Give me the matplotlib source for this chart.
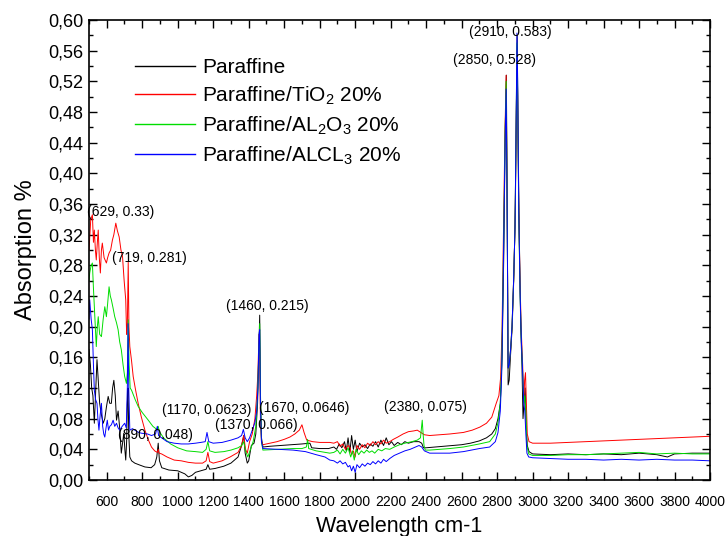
import matplotlib
matplotlib.use('Agg')
import matplotlib.pyplot as plt
from matplotlib.ticker import MultipleLocator, FuncFormatter

plt.rcParams['font.family'] = ['Liberation Sans', 'DejaVu Sans']
plt.rcParams['mathtext.fontset'] = 'custom'
plt.rcParams['mathtext.rm'] = 'Liberation Sans'
plt.rcParams['mathtext.it'] = 'Liberation Sans:italic'

labels = ['Paraffine', 'Paraffine/TiO$_2$ 20%', 'Paraffine/AL$_2$O$_3$ 20%', 'Paraffine/ALCL$_3$ 20%']
colors = ['#000000', '#ff0000', '#00dd00', '#0000ff']

# Paraffine
wn_par = [500, 508, 515, 522, 530, 538, 545, 552, 560, 570, 580, 589, 598, 608, 617, 626, 633, 640, 648, 655,
          664, 672, 682, 690, 696, 702, 707, 712, 716, 720, 724, 730, 740, 758, 780, 815, 850, 870, 882, 890,
          897, 910, 950, 1000, 1040, 1060, 1080, 1100, 1130, 1160, 1170, 1180, 1210, 1260, 1300, 1340, 1360, 1372, 1380, 1392,
          1400, 1415, 1430, 1440, 1450, 1456, 1462, 1467, 1472, 1480, 1520, 1580, 1640, 1700, 1745, 1755, 1800, 1850,
          1880, 1895, 1910, 1925, 1940, 1950, 1960, 1970, 1980, 1990, 2000, 2010, 2025, 2040, 2055, 2070, 2085, 2100,
          2115, 2130, 2145, 2160, 2175, 2190, 2205, 2220, 2240, 2260, 2280, 2300, 2330, 2360, 2375, 2385, 2400, 2450,
          2500, 2550, 2600, 2650, 2700, 2740, 2770, 2790, 2805, 2818, 2828, 2838, 2846, 2852, 2857, 2862, 2868, 2875,
          2885, 2895, 2903, 2909, 2913, 2918, 2925, 2933, 2940, 2946, 2952, 2958, 2964, 2970, 2980, 3000, 3100, 3200,
          3300, 3400, 3500, 3600, 3700, 3760, 3800, 3900, 4000]
ab_par = [0.17, 0.15, 0.12, 0.11, 0.074, 0.12, 0.157, 0.13, 0.10, 0.085, 0.074, 0.08, 0.095, 0.109, 0.10, 0.1, 0.12, 0.13, 0.11, 0.078,
          0.09, 0.07, 0.035, 0.05, 0.061, 0.04, 0.026, 0.05, 0.1, 0.12, 0.06, 0.03, 0.025, 0.022, 0.02, 0.017, 0.016, 0.02, 0.03, 0.048,
          0.025, 0.016, 0.013, 0.012, 0.008, 0.004, 0.006, 0.01, 0.012, 0.014, 0.02, 0.014, 0.015, 0.018, 0.022, 0.03, 0.045, 0.058, 0.035, 0.022,
          0.025, 0.045, 0.048, 0.06, 0.1, 0.16, 0.215, 0.1, 0.055, 0.043, 0.044, 0.045, 0.046, 0.047, 0.048, 0.042, 0.041, 0.041,
          0.043, 0.04, 0.047, 0.042, 0.05, 0.038, 0.055, 0.036, 0.058, 0.04, 0.052, 0.037, 0.048, 0.043, 0.046, 0.041, 0.047, 0.044,
          0.05, 0.043, 0.052, 0.045, 0.055, 0.046, 0.05, 0.045, 0.049, 0.046, 0.05, 0.048, 0.05, 0.05, 0.048, 0.042, 0.042, 0.043,
          0.044, 0.045, 0.046, 0.048, 0.051, 0.055, 0.06, 0.067, 0.08, 0.1, 0.16, 0.3, 0.46, 0.528, 0.36, 0.124, 0.13, 0.16,
          0.2, 0.27, 0.36, 0.5, 0.58, 0.45, 0.32, 0.2, 0.15, 0.08, 0.1, 0.12, 0.07, 0.045, 0.037, 0.034, 0.033, 0.034,
          0.033, 0.034, 0.033, 0.035, 0.033, 0.03, 0.034, 0.035, 0.035]

# Paraffine/TiO2
wn_tio = [500, 510, 519, 525, 530, 536, 541, 547, 552, 558, 564, 570, 575, 585, 598, 605, 613, 622, 632, 640,
          651, 660, 670, 680, 689, 698, 707, 712, 716, 721, 725, 730, 740, 749, 762, 777, 795, 815, 835, 852,
          870, 885, 890, 895, 909, 940, 980, 1020, 1060, 1100, 1140, 1160, 1170, 1180, 1200, 1250, 1295, 1340, 1360, 1372,
          1382, 1392, 1405, 1420, 1435, 1445, 1452, 1458, 1462, 1466, 1472, 1480, 1520, 1560, 1600, 1632, 1660, 1685, 1700, 1712,
          1727, 1760, 1800, 1857, 1880, 1900, 1915, 1930, 1945, 1960, 1970, 1980, 1990, 2000, 2010, 2025, 2040, 2055, 2070, 2085,
          2100, 2115, 2130, 2145, 2160, 2175, 2195, 2215, 2240, 2270, 2300, 2330, 2350, 2370, 2390, 2420, 2480, 2533, 2610, 2660,
          2703, 2740, 2770, 2795, 2810, 2820, 2828, 2836, 2844, 2851, 2856, 2862, 2868, 2876, 2884, 2893, 2901, 2907, 2912, 2916,
          2922, 2930, 2937, 2944, 2950, 2955, 2960, 2965, 2970, 2980, 3000, 3100, 3200, 3300, 3400, 3500, 3600, 3700, 3800, 3900,
          4000]
ab_tio = [0.3, 0.34, 0.346, 0.31, 0.326, 0.3, 0.287, 0.31, 0.326, 0.29, 0.27, 0.3, 0.309, 0.29, 0.283, 0.29, 0.296, 0.3, 0.313, 0.32,
          0.335, 0.325, 0.317, 0.3, 0.291, 0.26, 0.235, 0.19, 0.2, 0.284, 0.2, 0.174, 0.155, 0.135, 0.118, 0.10, 0.082, 0.065, 0.052, 0.043,
          0.038, 0.036, 0.04, 0.035, 0.034, 0.03, 0.026, 0.025, 0.023, 0.022, 0.022, 0.025, 0.036, 0.024, 0.022, 0.025, 0.03, 0.036, 0.045, 0.058,
          0.04, 0.035, 0.05, 0.06, 0.08, 0.11, 0.14, 0.19, 0.17, 0.08, 0.05, 0.046, 0.048, 0.05, 0.053, 0.056, 0.06, 0.065, 0.072, 0.062,
          0.052, 0.05, 0.049, 0.049, 0.048, 0.05, 0.044, 0.047, 0.04, 0.045, 0.043, 0.033, 0.038, 0.03, 0.045, 0.04, 0.046, 0.042, 0.048, 0.045,
          0.05, 0.046, 0.05, 0.047, 0.052, 0.048, 0.05, 0.053, 0.056, 0.06, 0.063, 0.064, 0.065, 0.062, 0.059, 0.058, 0.059, 0.06, 0.062, 0.065,
          0.069, 0.074, 0.082, 0.1, 0.11, 0.134, 0.2, 0.33, 0.45, 0.528, 0.38, 0.146, 0.15, 0.17, 0.2, 0.26, 0.33, 0.45, 0.56, 0.5,
          0.35, 0.25, 0.19, 0.15, 0.1, 0.13, 0.14, 0.1, 0.06, 0.05, 0.048, 0.048, 0.049, 0.05, 0.051, 0.052, 0.053, 0.054, 0.055, 0.056,
          0.057]

# Paraffine/Al2O3
wn_alo = [500, 504, 512, 519, 525, 530, 536, 541, 547, 552, 560, 570, 580, 589, 598, 605, 613, 620, 626, 635,
          645, 655, 664, 673, 682, 692, 701, 711, 716, 721, 726, 732, 740, 760, 777, 800, 834, 860, 882, 890,
          897, 920, 960, 1000, 1050, 1100, 1140, 1160, 1170, 1180, 1210, 1260, 1300, 1340, 1360, 1372, 1382, 1395, 1410, 1425,
          1440, 1450, 1457, 1462, 1467, 1472, 1480, 1560, 1650, 1700, 1725, 1732, 1738, 1780, 1830, 1857, 1880, 1900, 1915, 1930,
          1945, 1960, 1975, 1985, 1995, 2005, 2020, 2035, 2050, 2065, 2080, 2095, 2110, 2130, 2150, 2170, 2195, 2220, 2250, 2280,
          2320, 2350, 2368, 2378, 2383, 2388, 2395, 2420, 2480, 2533, 2610, 2700, 2758, 2790, 2805, 2818, 2826, 2836, 2845, 2851,
          2856, 2862, 2868, 2876, 2884, 2893, 2901, 2907, 2912, 2916, 2922, 2930, 2937, 2944, 2950, 2956, 2962, 2968, 2978, 3000,
          3100, 3200, 3300, 3400, 3500, 3600, 3700, 3800, 3900, 4000]
ab_alo = [0.26, 0.27, 0.28, 0.283, 0.25, 0.226, 0.2, 0.174, 0.2, 0.213, 0.19, 0.187, 0.21, 0.226, 0.213, 0.23, 0.252, 0.24, 0.235, 0.225,
          0.213, 0.205, 0.196, 0.18, 0.17, 0.15, 0.135, 0.126, 0.14, 0.209, 0.15, 0.12, 0.117, 0.105, 0.096, 0.088, 0.078, 0.07, 0.066, 0.07,
          0.063, 0.055, 0.047, 0.042, 0.038, 0.037, 0.036, 0.04, 0.05, 0.038, 0.036, 0.037, 0.039, 0.042, 0.045, 0.05, 0.038, 0.03, 0.04, 0.05,
          0.07, 0.11, 0.17, 0.204, 0.1, 0.05, 0.039, 0.04, 0.041, 0.041, 0.043, 0.053, 0.041, 0.038, 0.036, 0.035, 0.036, 0.039, 0.034, 0.04,
          0.035, 0.042, 0.03, 0.038, 0.026, 0.04, 0.033, 0.038, 0.035, 0.039, 0.036, 0.038, 0.035, 0.04, 0.038, 0.041, 0.04, 0.043, 0.046, 0.048,
          0.05, 0.052, 0.055, 0.078, 0.06, 0.045, 0.039, 0.039, 0.04, 0.041, 0.043, 0.047, 0.05, 0.06, 0.075, 0.1, 0.15, 0.3, 0.45, 0.52,
          0.38, 0.146, 0.15, 0.17, 0.2, 0.26, 0.33, 0.46, 0.57, 0.5, 0.34, 0.24, 0.18, 0.14, 0.1, 0.11, 0.09, 0.045, 0.034, 0.032,
          0.032, 0.033, 0.033, 0.034, 0.035, 0.036, 0.034, 0.035, 0.034, 0.034]

# Paraffine/AlCl3
wn_alc = [500, 504, 512, 519, 525, 530, 537, 545, 550, 556, 563, 570, 577, 583, 589, 596, 603, 610, 617, 626,
          636, 645, 655, 664, 673, 687, 701, 710, 716, 720, 724, 730, 745, 758, 780, 796, 830, 852, 875, 885,
          892, 909, 940, 980, 1020, 1060, 1100, 1130, 1155, 1165, 1175, 1200, 1250, 1300, 1340, 1360, 1370, 1380, 1392, 1405,
          1420, 1435, 1445, 1452, 1458, 1462, 1466, 1472, 1480, 1560, 1650, 1720, 1780, 1830, 1857, 1880, 1900, 1915, 1930, 1945,
          1960, 1970, 1980, 1990, 2000, 2010, 2025, 2040, 2055, 2070, 2085, 2100, 2115, 2130, 2145, 2160, 2175, 2195, 2220, 2250,
          2280, 2310, 2340, 2360, 2375, 2390, 2420, 2480, 2533, 2610, 2700, 2758, 2790, 2805, 2818, 2826, 2836, 2845, 2851, 2856,
          2862, 2868, 2876, 2884, 2893, 2901, 2907, 2912, 2916, 2922, 2930, 2937, 2944, 2950, 2956, 2962, 2968, 2978, 3000, 3100,
          3200, 3300, 3400, 3500, 3600, 3700, 3800, 3900, 4000]
ab_alc = [0.21, 0.235, 0.21, 0.196, 0.15, 0.117, 0.105, 0.1, 0.08, 0.065, 0.085, 0.1, 0.07, 0.06, 0.056, 0.068, 0.078, 0.065, 0.07, 0.072,
          0.078, 0.07, 0.074, 0.068, 0.065, 0.07, 0.074, 0.068, 0.12, 0.204, 0.12, 0.065, 0.067, 0.065, 0.062, 0.061, 0.06, 0.058, 0.06, 0.07,
          0.058, 0.055, 0.05, 0.048, 0.047, 0.047, 0.048, 0.049, 0.05, 0.062, 0.05, 0.048, 0.049, 0.052, 0.055, 0.058, 0.066, 0.055, 0.05, 0.055,
          0.065, 0.075, 0.09, 0.12, 0.19, 0.196, 0.1, 0.05, 0.041, 0.04, 0.039, 0.037, 0.033, 0.03, 0.026, 0.025, 0.022, 0.025, 0.021, 0.023,
          0.017, 0.019, 0.012, 0.018, 0.01, 0.02, 0.016, 0.021, 0.018, 0.022, 0.02, 0.024, 0.021, 0.025, 0.022, 0.027, 0.024, 0.028, 0.032, 0.035,
          0.038, 0.04, 0.043, 0.045, 0.043, 0.038, 0.035, 0.035, 0.035, 0.037, 0.041, 0.043, 0.05, 0.062, 0.09, 0.14, 0.29, 0.44, 0.51, 0.37,
          0.146, 0.15, 0.17, 0.2, 0.26, 0.33, 0.46, 0.583, 0.52, 0.35, 0.24, 0.18, 0.14, 0.1, 0.09, 0.06, 0.035, 0.03, 0.029, 0.028,
          0.027, 0.027, 0.026, 0.027, 0.026, 0.027, 0.026, 0.026, 0.025]

ann_text = ['(629, 0.33)', '(719, 0.281)', '(890, 0.048)', '(1170, 0.0623)', '(1370, 0.066)', '(1460, 0.215)',
            '(1670, 0.0646)', '(2380, 0.075)', '(2850, 0.528)', '(2910, 0.583)']
ann_x = [680, 843, 877, 1165, 1442, 1503, 1711, 2397, 2786, 2877]
ann_y = [0.35, 0.29, 0.059, 0.091, 0.072, 0.227, 0.094, 0.095, 0.548, 0.584]

fig = plt.figure(figsize=(7.26, 5.36), dpi=100)
ax = fig.add_axes([0.1226, 0.1045, 0.8554, 0.8582])

series = [(wn_par, ab_par), (wn_tio, ab_tio), (wn_alo, ab_alo), (wn_alc, ab_alc)]
for (x, y), c, lab in zip(series, colors, labels):
    ax.plot(x, y, color=c, lw=0.7, label=lab)

for t, x, y in zip(ann_text, ann_x, ann_y):
    ax.text(x, y, t, ha='center', va='center', fontsize=10)

ax.set_xlim(500, 4000)
ax.set_ylim(0, 0.6)
ax.xaxis.set_major_locator(MultipleLocator(200))
ax.xaxis.set_minor_locator(MultipleLocator(100))
ax.yaxis.set_major_locator(MultipleLocator(0.04))
ax.yaxis.set_minor_locator(MultipleLocator(0.02))
ax.yaxis.set_major_formatter(FuncFormatter(lambda v, p: f'{v:.2f}'.replace('.', ',')))
ax.xaxis.set_major_formatter(FuncFormatter(lambda v, p: '' if v < 600 else f'{v:.0f}'))
ax.tick_params(which='both', direction='in', top=True, right=True, width=1.0)
ax.tick_params(which='major', length=6)
ax.tick_params(which='minor', length=3)
ax.tick_params(axis='x', labelsize=10, pad=11)
ax.tick_params(axis='y', labelsize=13, pad=4)
for s in ax.spines.values():
    s.set_linewidth(1.2)

ax.set_xlabel('Wavelength cm-1', fontsize=15.5, labelpad=5)
ax.set_ylabel('Absorption %', fontsize=17, labelpad=8)

leg = ax.legend(loc='upper left', bbox_to_anchor=(0.06, 0.935), frameon=False, fontsize=15,
                handlelength=2.9, handletextpad=0.35, labelspacing=0.36, borderaxespad=0)
for h in leg.get_lines():
    h.set_linewidth(1.0)

fig.savefig('out.png', dpi=100)
